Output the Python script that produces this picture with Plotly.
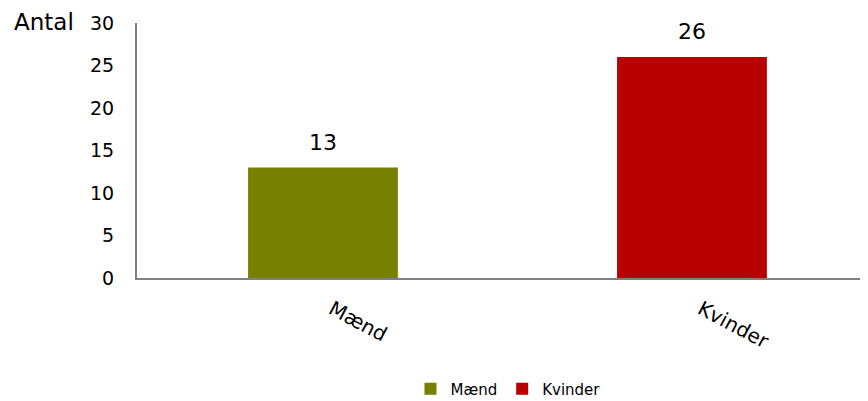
import plotly.graph_objects as go

categories = ["Mænd", "Kvinder"]
values = [13, 26]
colors = ["#788000", "#B80000"]
y_ticks = [0, 5, 10, 15, 20, 25, 30]

W, H = 868, 401
ml, mr, mt, mb = 129, 0, 15, 131
pw = W - ml - mr
ph = H - mt - mb
cat_px = 369.0
x_start = -0.504

fig = go.Figure()
for c, v, col in zip(categories, values, colors):
    fig.add_trace(go.Bar(
        x=[c], y=[v], name=c, marker=dict(color=col, line=dict(width=0)),
        cliponaxis=False,
    ))

annotations = [dict(text="Antal", xref="paper", yref="paper",
                    x=(4 - ml) / pw, y=(270 - 14) / ph,
                    xanchor="left", yanchor="middle",
                    showarrow=False, font=dict(size=23, family="DejaVu Sans", color="#000000"))]
for c, v in zip(categories, values):
    annotations.append(dict(x=c, y=v, xref="x", yref="y", text=str(v), showarrow=False,
                            yanchor="bottom", yshift=11,
                            font=dict(size=22, family="DejaVu Sans", color="#000000")))

fig.update_layout(
    width=W, height=H,
    margin=dict(l=ml, r=mr, t=mt, b=mb),
    plot_bgcolor="white", paper_bgcolor="white",
    barmode="overlay", bargap=0.594,
    font=dict(family="DejaVu Sans", color="#000000"),
    showlegend=True,
    legend=dict(orientation="h", x=0.502, xanchor="center", y=(270 - 381) / ph, yanchor="middle",
                font=dict(size=15, family="DejaVu Sans"), itemwidth=30,
                traceorder="normal"),
    xaxis=dict(type="category", categoryorder="array", categoryarray=categories,
               range=[x_start, x_start + pw / cat_px], showline=True, linecolor="#808080",
               linewidth=2, ticks="", tickangle=28, ticklabelstandoff=10, ticklabelshift=9,
               tickfont=dict(size=20, family="DejaVu Sans"),
               showgrid=False, zeroline=False),
    yaxis=dict(range=[0, 30], tickvals=y_ticks, showline=True, linecolor="#808080",
               linewidth=2, ticks="", ticklabelstandoff=17,
               tickfont=dict(size=19, family="DejaVu Sans"),
               showgrid=False, zeroline=False),
    annotations=annotations,
)

fig.write_html("out.html")
